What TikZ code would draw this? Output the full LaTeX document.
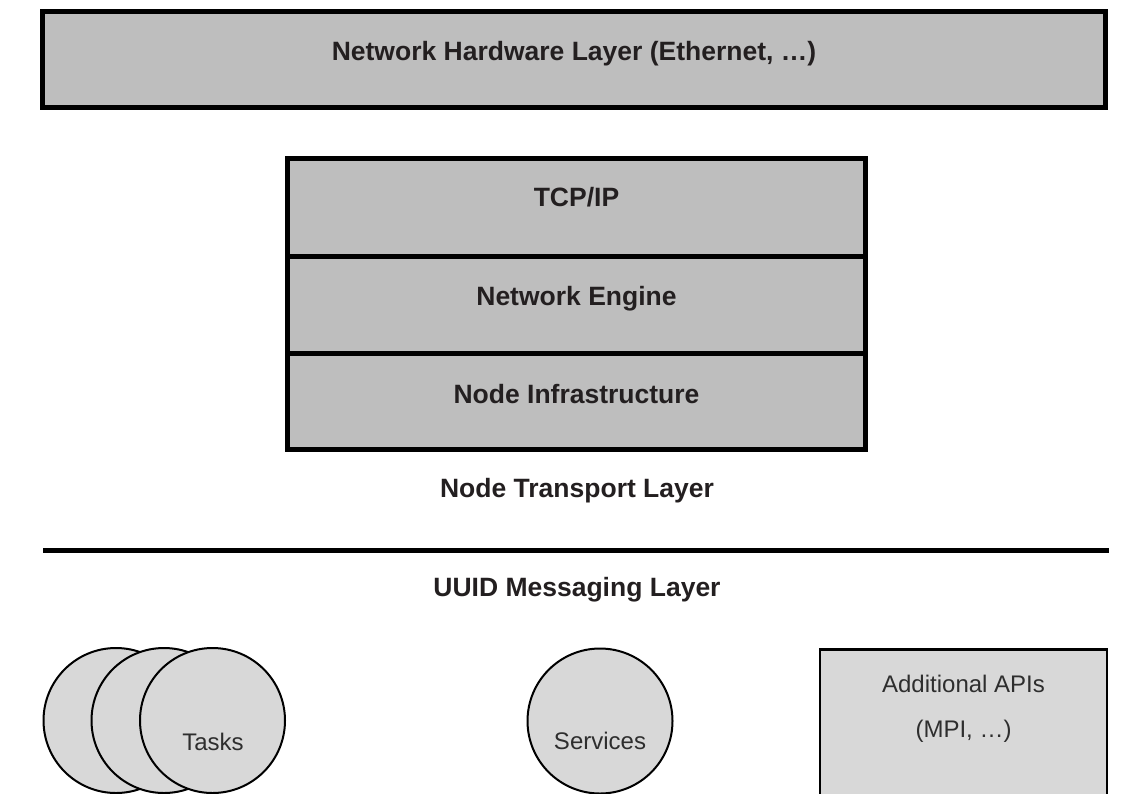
\documentclass[tikz,border=0pt]{standalone}
\usepackage{fontspec}
\setmainfont{Liberation Sans}
\definecolor{darkfill}{HTML}{BEBEBE}
\definecolor{lightfill}{HTML}{D8D8D8}
\definecolor{boldtext}{HTML}{231F20}
\definecolor{plaintext}{HTML}{2E2E2E}
\tikzset{
  layerbox/.style={draw=black, fill=darkfill, line width=5pt, inner sep=0pt, minimum width=578pt},
  boldlabel/.style={font=\fontsize{26.5}{31}\selectfont\bfseries, text=boldtext, anchor=base, inner sep=0pt},
  plainlabel/.style={font=\fontsize{24}{29}\selectfont, text=plaintext, anchor=base, inner sep=0pt},
  entity/.style={draw=black, fill=lightfill, line width=2pt, circle, minimum size=145pt, inner sep=0pt},
}
\begin{document}
\begin{tikzpicture}[x=1pt, y=-1pt]
\useasboundingbox (0,0) rectangle (1145,793);
\clip (0,0) rectangle (1145,793);
% Network hardware layer
\node[draw=black, fill=darkfill, line width=5pt, inner sep=0pt, minimum width=1063pt, minimum height=96pt] (hw) at (574,59.5) {};
\node[boldlabel] (hwtext) at (574,60) {Network Hardware Layer (Ethernet, …)};
% Node transport stack
\node[layerbox, minimum height=97.5pt] (tcp) at (576.5,207.25) {};
\node[layerbox, minimum height=97pt] (engine) at (576.5,304.5) {};
\node[layerbox, minimum height=96.5pt] (infra) at (576.5,401.25) {};
\node[boldlabel] (tcptext) at (576.5,206.5) {TCP/IP};
\node[boldlabel] (enginetext) at (576.5,305) {Network Engine};
\node[boldlabel] (infratext) at (576.5,403) {Node Infrastructure};
\node[boldlabel] (transport) at (577,497) {Node Transport Layer};
% separator
\coordinate (sepL) at (43,550.5);
\coordinate (sepR) at (1109,550.5);
\draw[line width=5pt, black] (sepL) -- (sepR);
\node[boldlabel] (uuid) at (577,596) {UUID Messaging Layer};
% Tasks
\node[entity] (task1) at (116,720.5) {};
\node[entity] (task2) at (164,720.5) {};
\node[entity] (task3) at (212.5,720.5) {};
\node[plainlabel] (taskstext) at (213,750) {Tasks};
% Services
\node[entity] (services) at (600,721) {};
\node[plainlabel] (servicestext) at (600,749) {Services};
% Additional APIs
\node[draw=black, fill=lightfill, line width=2.5pt, inner sep=0pt, minimum width=287pt, minimum height=200pt] (apis) at (963.5,749.25) {};
\node[plainlabel] (apistext) at (963.5,692.5) {Additional APIs};
\node[plainlabel] (mpitext) at (963.5,737) {(MPI, …)};
\end{tikzpicture}
\end{document}
